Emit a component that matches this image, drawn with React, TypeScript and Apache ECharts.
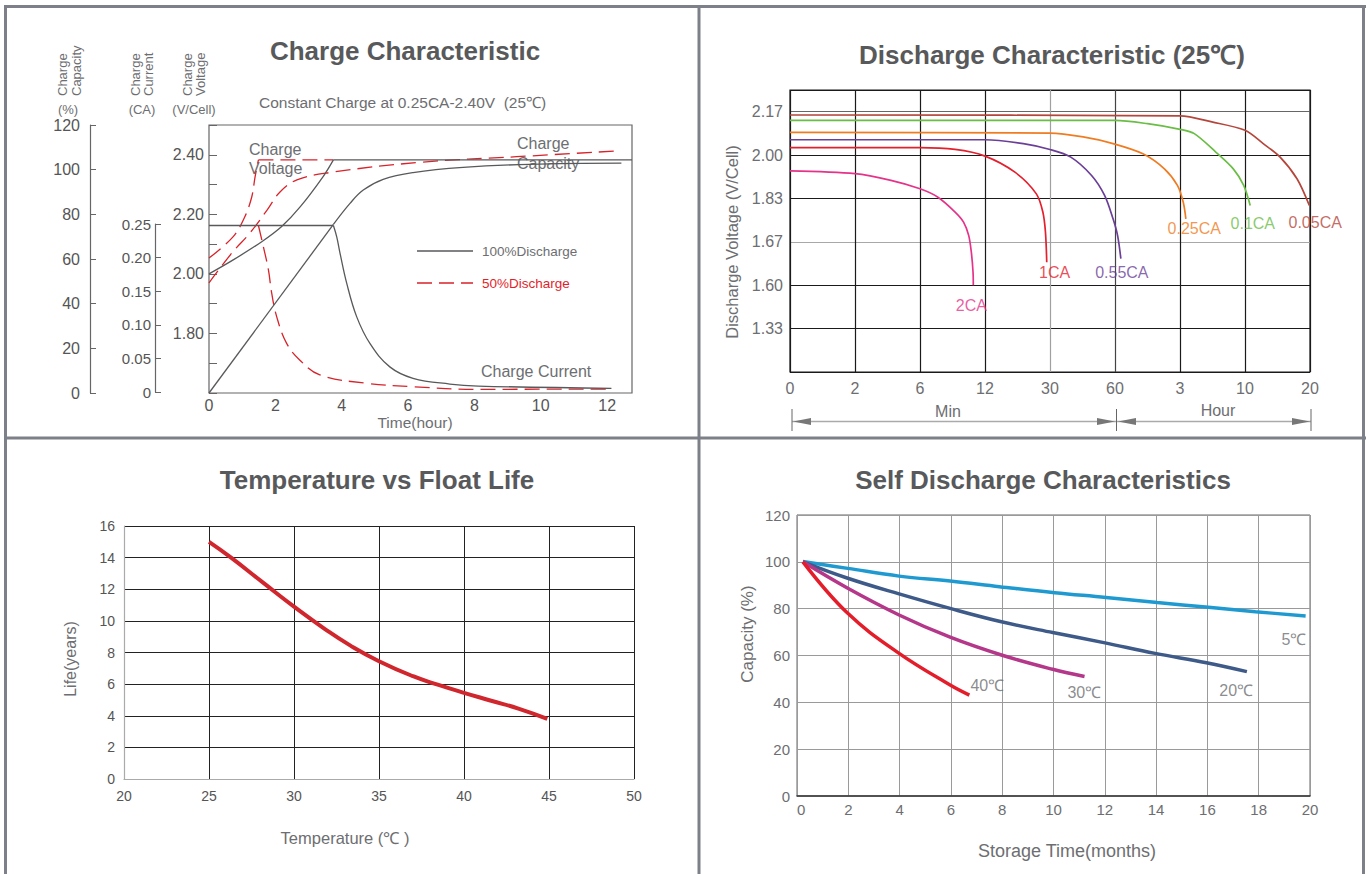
import React, { useEffect, useRef } from 'react';
import * as echarts from 'echarts';

const FONT = '"Liberation Sans", Arial, Helvetica, sans-serif';
const GRAY = '#6d6e71';
const TITLE = '#58595b';

// ---------- Charge characteristic (top-left) ----------
const ccVoltLabelValues = [1.8, 2.0, 2.2, 2.4];
// 100% discharge
const v100RiseT = [0, 0.73, 1.59, 2.19, 2.74, 3.44, 3.75];
const v100RiseV = [2.0, 2.047, 2.108, 2.159, 2.224, 2.327, 2.383];
const v100FlatT = [3.75, 12.75];
const v100FlatV = [2.383, 2.383];
const cap100LinT = [0, 3.75];
const cap100LinC = [0, 75.5];
const cap100CurT = [3.75, 4.25, 4.65, 5.25, 6.15, 7.66, 9.67, 12.43];
const cap100CurC = [75.5, 84.9, 90.9, 95.7, 98.7, 101, 102.4, 102.9];
const cur100FlatT = [0, 3.75];
const cur100FlatI = [0.25, 0.25];
const cur100DropT = [3.75, 3.85, 3.95, 4.15, 4.45, 4.85, 5.45, 6.15, 7.26, 8.11, 12.13];
const cur100DropI = [0.25, 0.233, 0.2085, 0.164, 0.114, 0.074, 0.039, 0.022, 0.0134, 0.0104, 0.007];
// 50% discharge
const v50RiseT = [0, 0.73, 1.08, 1.29, 1.39, 1.49];
const v50RiseV = [2.053, 2.125, 2.192, 2.259, 2.327, 2.383];
const v50FlatT = [1.49, 3.75];
const v50FlatV = [2.383, 2.383];
const cap50T = [0, 0.69, 1.23, 1.75, 2.14, 2.65, 3.64, 6.36, 9.27, 12.33];
const cap50C = [49.3, 62.7, 71.6, 81.9, 90, 95.4, 98.7, 103.3, 105.8, 108.4];
const cur50DropT = [1.49, 1.64, 1.79, 1.89, 2.04, 2.34, 2.74, 3.34, 4.75, 6.15, 8.11, 12.13];
const cur50DropI = [0.25, 0.218, 0.184, 0.149, 0.114, 0.074, 0.049, 0.027, 0.0145, 0.0094, 0.0055, 0.006];
const ccLegendNames = ['100%Discharge', '50%Discharge'];

// ---------- Discharge characteristic (top-right) ----------
const trXLabels = ['0', '2', '6', '12', '30', '60', '3', '10', '20'];
const trYLevels = [1.33, 1.6, 1.67, 1.83, 2.0, 2.17];
const trYLabels = ['', '1.33', '1.60', '1.67', '1.83', '2.00', '2.17'];
const trXLineColors = ['#1a1a1a', '#1a1a1a', '#1a1a1a', '#1a1a1a', '#a0a0a0', '#444', '#1a1a1a', '#1a1a1a', '#1a1a1a'];
const trYLineColors = ['#1a1a1a', '#1a1a1a', '#1a1a1a', '#a8a8a8', '#1a1a1a', '#1a1a1a', '#666', '#1a1a1a'];
const trNames = ['2CA', '1CA', '0.55CA', '0.25CA', '0.1CA', '0.05CA'];
const trColors = ['#e6338a', '#e5202e', '#6b3f98', '#f07c22', '#6abd45', '#b5463c'];
const trX = [
  [0, 1, 1.553, 2.0, 2.276, 2.54, 2.67, 2.75, 2.79, 2.816, 2.82],
  [0, 2, 2.54, 3.0, 3.46, 3.79, 3.89, 3.93, 3.95],
  [0, 3, 3.59, 4.0, 4.32, 4.64, 4.84, 4.97, 5.04, 5.09],
  [0, 4.0, 4.51, 4.97, 5.43, 5.76, 5.96, 6.05, 6.09],
  [0, 5.0, 5.5, 6.0, 6.22, 6.55, 6.82, 6.98, 7.08],
  [0, 6.0, 6.49, 7.0, 7.28, 7.54, 7.8, 7.99],
];
const trV = [
  [1.938, 1.927, 1.901, 1.868, 1.835, 1.78, 1.743, 1.693, 1.653, 1.621, 1.6],
  [2.029, 2.029, 2.022, 1.996, 1.933, 1.848, 1.78, 1.706, 1.637],
  [2.06, 2.06, 2.045, 2.022, 1.992, 1.92, 1.842, 1.755, 1.693, 1.643],
  [2.089, 2.086, 2.071, 2.045, 2.005, 1.946, 1.881, 1.816, 1.755],
  [2.136, 2.136, 2.123, 2.101, 2.084, 2.012, 1.946, 1.881, 1.804],
  [2.157, 2.154, 2.13, 2.097, 2.045, 1.992, 1.907, 1.804],
];
const trLabelX = [2.79, 4.07, 5.105, 6.22, 7.12, 8.08];
const trLabelV = [1.473, 1.621, 1.621, 1.718, 1.738, 1.742];

// ---------- Temperature vs float life (bottom-left) ----------
const tempC = [25, 26.3, 28.2, 30, 31.8, 33.3, 35, 37, 38.5, 40, 41.6, 43.2, 44.9];
const lifeYears = [15, 14.0, 12.4, 10.9, 9.5, 8.45, 7.45, 6.5, 5.95, 5.45, 4.95, 4.45, 3.8];

// ---------- Self discharge (bottom-right) ----------
const sdNames = ['5℃', '20℃', '30℃', '40℃'];
const sdColors = ['#1f9ad1', '#3d5a89', '#b4378a', '#e31e2a'];
const sdMonths = [
  [0.23, 1.98, 3.98, 5.97, 7.89, 10.05, 12.05, 14.04, 16.04, 17.87, 19.83],
  [0.23, 1.98, 3.98, 5.97, 7.97, 9.97, 11.96, 13.96, 15.96, 17.54],
  [0.23, 1.98, 3.98, 5.97, 7.97, 9.97, 11.21],
  [0.23, 1.98, 3.98, 5.97, 6.72],
];
const sdCapacity = [
  [100.1, 97.2, 93.9, 91.8, 89.4, 86.8, 84.8, 82.6, 80.6, 78.7, 76.9],
  [100, 93, 86.3, 80.1, 74.4, 69.8, 65.5, 60.9, 56.9, 53.1],
  [100, 88.7, 77.3, 67.8, 60.2, 54.1, 51],
  [100, 78, 60.9, 47.4, 43.1],
];
const sdLabelX = [19.37, 17.12, 11.2, 7.42];
const sdLabelC = [66.9, 45, 44.3, 47];

function vToRow(v: number): number {
  const L = trYLevels;
  let i = 0;
  if (v >= L[L.length - 1]) i = L.length - 2;
  else {
    while (i < L.length - 2 && v > L[i + 1]) i++;
  }
  return i + 1 + (v - L[i]) / (L[i + 1] - L[i]);
}

const zip = (a: number[], b: number[]) => a.map((x, i) => [x, b[i]]);

function txt(text: string, x: number, y: number, size: number, extra: any = {}) {
  const { rotation, align, color, weight, vAlign } = extra;
  return {
    type: 'text',
    x,
    y,
    rotation: rotation || 0,
    silent: true,
    style: {
      text,
      fill: color || GRAY,
      fontSize: size,
      fontWeight: weight || 'normal',
      fontFamily: FONT,
      align: align || 'center',
      verticalAlign: vAlign || 'middle',
    },
  };
}

function ln(x1: number, y1: number, x2: number, y2: number, color: string, w: number, dash?: number[]) {
  return {
    type: 'line',
    silent: true,
    shape: { x1, y1, x2, y2 },
    style: { stroke: color, lineWidth: w, lineDash: dash || null },
  };
}

function tri(points: number[][], color: string) {
  return { type: 'polygon', silent: true, shape: { points }, style: { fill: color } };
}

export default function App() {
  const ref = useRef<HTMLDivElement>(null);
  useEffect(() => {
    if (!ref.current) return;
    const chart = echarts.init(ref.current, null, { renderer: 'svg' });

    const BLACK = '#58595b';
    const RED = '#d8232a';
    const blackLine = { color: BLACK, width: 1.3, type: 'solid' as const };
    const redLine = { color: RED, width: 1.3, type: [15, 7] as any };

    const ccSeries = (name: string, data: number[][], yIdx: number, style: any, smooth: number | boolean, z: number) => ({
      type: 'line',
      name,
      xAxisIndex: 0,
      yAxisIndex: yIdx,
      data,
      smooth,
      symbol: 'none',
      lineStyle: style,
      itemStyle: { color: style.color },
      z,
      silent: true,
    });

    const series: any[] = [
      ccSeries(ccLegendNames[1], zip(v50RiseT, v50RiseV), 0, redLine, 0.35, 2),
      ccSeries(ccLegendNames[1], zip(v50FlatT, v50FlatV), 0, redLine, false, 2),
      ccSeries(ccLegendNames[1], zip(cap50T, cap50C), 1, redLine, 0.4, 2),
      ccSeries(ccLegendNames[1], zip(cur50DropT, cur50DropI), 2, redLine, 0.4, 2),
      ccSeries(ccLegendNames[0], zip(v100RiseT, v100RiseV), 0, blackLine, 0.35, 3),
      ccSeries(ccLegendNames[0], zip(v100FlatT, v100FlatV), 0, blackLine, false, 3),
      ccSeries(ccLegendNames[0], zip(cap100LinT, cap100LinC), 1, blackLine, false, 3),
      ccSeries(ccLegendNames[0], zip(cap100CurT, cap100CurC), 1, blackLine, 0.4, 3),
      ccSeries(ccLegendNames[0], zip(cur100FlatT, cur100FlatI), 2, blackLine, false, 3),
      ccSeries(ccLegendNames[0], zip(cur100DropT, cur100DropI), 2, blackLine, 0.4, 3),
    ];

    trNames.forEach((n, k) => {
      series.push({
        type: 'line',
        name: n,
        xAxisIndex: 2,
        yAxisIndex: 4,
        data: trX[k].map((x, i) => [x, vToRow(trV[k][i])]),
        smooth: 0.3,
        symbol: 'none',
        lineStyle: { color: trColors[k], width: 1.7 },
        z: 3,
        silent: true,
      });
    });
    series.push({
      type: 'scatter',
      name: 'trLabels',
      xAxisIndex: 2,
      yAxisIndex: 4,
      symbolSize: 0,
      silent: true,
      clip: false,
      data: trNames.map((n, k) => ({
        name: n,
        value: [trLabelX[k], vToRow(trLabelV[k])],
        label: { color: trColors[k] },
      })),
      label: { show: true, position: 'inside', formatter: '{b}', fontSize: 16, fontFamily: FONT },
      z: 4,
    });

    series.push({
      type: 'line',
      name: 'life',
      xAxisIndex: 3,
      yAxisIndex: 5,
      data: zip(tempC, lifeYears),
      smooth: 0.5,
      symbol: 'none',
      lineStyle: { color: '#d0262d', width: 4 },
      silent: true,
      z: 3,
    });

    sdNames.forEach((n, k) => {
      series.push({
        type: 'line',
        name: n,
        xAxisIndex: 4,
        yAxisIndex: 6,
        data: zip(sdMonths[k], sdCapacity[k]),
        smooth: 0.4,
        symbol: 'none',
        lineStyle: { color: sdColors[k], width: 3.5 },
        silent: true,
        z: 3,
      });
    });
    series.push({
      type: 'scatter',
      name: 'sdLabels',
      xAxisIndex: 4,
      yAxisIndex: 6,
      symbolSize: 0,
      silent: true,
      clip: false,
      data: sdNames.map((n, k) => ({ name: n, value: [sdLabelX[k], sdLabelC[k]] })),
      label: { show: true, position: 'inside', formatter: '{b}', fontSize: 16, color: GRAY, fontFamily: FONT },
      z: 4,
    });

    const borderC = '#7d8088';
    const graphic: any[] = [
      // panel borders
      ln(5.5, 5, 5.5, 874, borderC, 3),
      ln(4, 6.5, 1366, 6.5, borderC, 3),
      ln(1363.5, 5, 1363.5, 874, borderC, 3),
      ln(699, 5, 699, 874, borderC, 3),
      ln(4, 438, 1366, 438, borderC, 3),
      // titles
      txt('Charge Characteristic', 405, 51, 26, { weight: 'bold', color: TITLE }),
      txt('Discharge Characteristic (25℃)', 1052, 55, 26, { weight: 'bold', color: TITLE }),
      txt('Temperature vs Float Life', 377, 480, 26, { weight: 'bold', color: TITLE }),
      txt('Self Discharge Characteristics', 1043, 480, 26, { weight: 'bold', color: TITLE }),
      // top-left axis titles
      txt('Charge', 62, 96, 13, { rotation: Math.PI / 2, align: 'left' }),
      txt('Capacity', 76, 96, 13, { rotation: Math.PI / 2, align: 'left' }),
      txt('(%)', 68, 109, 13),
      txt('Charge', 135, 96, 13, { rotation: Math.PI / 2, align: 'left' }),
      txt('Current', 148, 96, 13, { rotation: Math.PI / 2, align: 'left' }),
      txt('(CA)', 142, 109, 13),
      txt('Charge', 187, 96, 13, { rotation: Math.PI / 2, align: 'left' }),
      txt('Voltage', 200, 96, 13, { rotation: Math.PI / 2, align: 'left' }),
      txt('(V/Cell)', 194, 109, 13),
      txt('Constant Charge at 0.25CA-2.40V  (25℃)', 259, 102, 15.5, { align: 'left' }),
      txt('Charge', 249, 149, 16, { align: 'left' }),
      txt('Voltage', 249, 168, 16, { align: 'left' }),
      txt('Charge', 517, 143, 16, { align: 'left' }),
      txt('Capacity', 517, 163, 16, { align: 'left' }),
      txt('Charge Current', 481, 371, 16, { align: 'left' }),
      txt('Time(hour)', 415, 422, 15.5),
      // top-left legend
      ln(417, 251, 473, 251, BLACK, 1.3),
      txt(ccLegendNames[0], 482, 251, 13.5, { align: 'left' }),
      ln(417, 283, 473, 283, RED, 1.3, [15, 7]),
      txt(ccLegendNames[1], 482, 283, 13.5, { align: 'left', color: '#e31e2a' }),
      // top-right
      txt('Discharge Voltage (V/Cell)', 732, 242, 16.5, { rotation: Math.PI / 2 }),
      txt('Min', 948, 411, 16),
      txt('Hour', 1218, 410, 16),
      ln(792, 421.5, 1311, 421.5, '#aaa', 1.5),
      ln(792, 409, 792, 431, '#666', 1),
      ln(1116.5, 409, 1116.5, 431, '#666', 1),
      ln(1311, 409, 1311, 431, '#666', 1),
      tri([[793, 421.5], [811, 418], [811, 425]], '#777'),
      tri([[1115, 421.5], [1097, 418], [1097, 425]], '#777'),
      tri([[1118, 421.5], [1136, 418], [1136, 425]], '#777'),
      tri([[1310, 421.5], [1292, 418], [1292, 425]], '#777'),
      // bottom-left
      txt('Life(years)', 70, 659, 16, { rotation: Math.PI / 2 }),
      txt('Temperature (℃ )', 345, 838, 16.5),
      // bottom-right
      txt('Capacity (%)', 747, 634, 17, { rotation: Math.PI / 2 }),
      txt('Storage Time(months)', 1067, 851, 18),
    ];

    const r2 = (v: number) => Math.round(v * 100) / 100;

    const option: any = {
      animation: false,
      backgroundColor: '#ffffff',
      textStyle: { fontFamily: FONT },
      grid: [
        { left: 209, top: 125, width: 423, height: 268, show: true, borderColor: '#666', borderWidth: 1.2 },
        { left: 155, top: 224, width: 1, height: 168 },
        { left: 790, top: 90, width: 520, height: 282, show: true, borderColor: '#1a1a1a', borderWidth: 1.2 },
        { left: 124, top: 526, width: 510, height: 253 },
        { left: 797, top: 515, width: 513, height: 281, show: true, borderColor: '#666', borderWidth: 1 },
      ],
      xAxis: [
        {
          gridIndex: 0, type: 'value', min: 0, max: 12.75, interval: 2,
          axisLine: { show: false }, axisTick: { show: false }, splitLine: { show: false },
          axisLabel: {
            color: '#555', fontSize: 16, margin: 4,
            formatter: (v: number) => (v % 2 === 0 && v <= 12 ? String(v) : ''),
          },
        },
        { gridIndex: 1, type: 'value', show: false },
        {
          gridIndex: 2, type: 'value', min: 0, max: 8, interval: 1,
          axisLine: { show: false }, axisTick: { show: false },
          splitLine: { show: true, lineStyle: { color: trXLineColors, width: 1.2 } },
          axisLabel: { color: GRAY, fontSize: 16, margin: 8, formatter: (v: number) => trXLabels[v] ?? '' },
        },
        {
          gridIndex: 3, type: 'value', min: 20, max: 50, interval: 5,
          axisLine: { show: true, lineStyle: { color: '#aaa', width: 1.2 } }, axisTick: { show: false },
          splitLine: { show: true, showMinLine: false, lineStyle: { color: '#222', width: 1 } },
          axisLabel: { color: '#555', fontSize: 14, margin: 10 },
        },
        {
          gridIndex: 4, type: 'value', min: 0, max: 20, interval: 2,
          axisLine: { show: true, lineStyle: { color: '#333', width: 1.5 } }, axisTick: { show: false },
          splitLine: { show: true, showMinLine: false, lineStyle: { color: '#9a9a9a', width: 1 } },
          axisLabel: { color: GRAY, fontSize: 15, margin: 6, alignMinLabel: 'left' },
        },
      ],
      yAxis: [
        {
          gridIndex: 0, type: 'value', min: 1.6, max: 2.5, interval: 0.1, position: 'left',
          axisLine: { show: false },
          axisTick: { show: true, inside: true, length: 8, lineStyle: { color: '#666' } },
          splitLine: { show: false },
          axisLabel: {
            color: '#555', fontSize: 16, margin: 5,
            formatter: (v: number) => (ccVoltLabelValues.includes(r2(v)) ? r2(v).toFixed(2) : ''),
          },
        },
        {
          gridIndex: 0, type: 'value', min: 0, max: 120, interval: 20, position: 'left', offset: 119,
          axisLine: { show: true, lineStyle: { color: '#666', width: 1.2 } },
          axisTick: { show: true, inside: true, length: 6, lineStyle: { color: '#666' } },
          splitLine: { show: false },
          axisLabel: { color: '#555', fontSize: 16, margin: 10 },
        },
        { gridIndex: 0, type: 'value', min: 0, max: 0.4, show: false },
        {
          gridIndex: 1, type: 'value', min: 0, max: 0.25, interval: 0.05, position: 'left',
          axisLine: { show: true, lineStyle: { color: '#666', width: 1.2 } },
          axisTick: { show: true, inside: true, length: 6, lineStyle: { color: '#666' } },
          splitLine: { show: false },
          axisLabel: {
            color: '#555', fontSize: 15, margin: 4,
            formatter: (v: number) => (v === 0 ? '0' : r2(v).toFixed(2)),
          },
        },
        {
          gridIndex: 2, type: 'value', min: 0, max: 6.5, interval: 1,
          axisLine: { show: false }, axisTick: { show: false },
          splitLine: { show: true, lineStyle: { color: trYLineColors, width: 1.2 } },
          axisLabel: { color: GRAY, fontSize: 16, margin: 7, formatter: (v: number) => trYLabels[v] ?? '' },
        },
        {
          gridIndex: 3, type: 'value', min: 0, max: 16, interval: 2,
          axisLine: { show: true, lineStyle: { color: '#aaa', width: 1.2 } }, axisTick: { show: false },
          splitLine: { show: true, showMinLine: false, lineStyle: { color: '#222', width: 1 } },
          axisLabel: { color: '#555', fontSize: 14, margin: 9 },
        },
        {
          gridIndex: 4, type: 'value', min: 0, max: 120, interval: 20,
          axisLine: { show: true, lineStyle: { color: '#9a9a9a', width: 1 } }, axisTick: { show: false },
          splitLine: { show: true, showMinLine: false, lineStyle: { color: '#9a9a9a', width: 1 } },
          axisLabel: { color: GRAY, fontSize: 15, margin: 7 },
        },
      ],
      series,
      graphic,
    };

    chart.setOption(option);
    return () => chart.dispose();
  }, []);

  return (
    <div
      ref={ref}
      style={{ position: 'fixed', left: 0, top: 0, width: 1370, height: 874, background: '#fff' }}
    />
  );
}
